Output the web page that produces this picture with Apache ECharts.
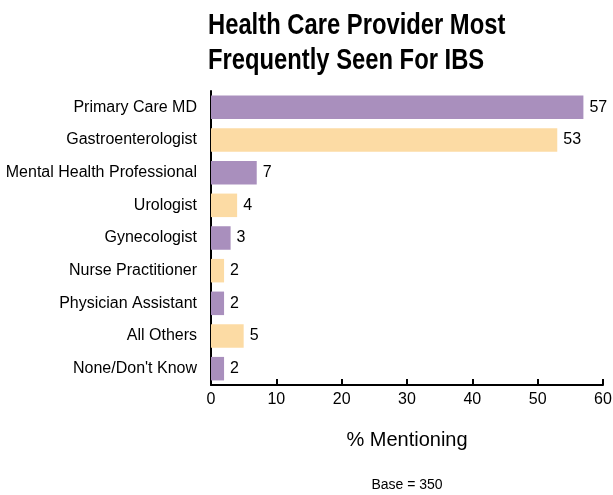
<!DOCTYPE html>
<html><head><meta charset="utf-8">
<script src="https://cdn.jsdelivr.net/npm/echarts@6/dist/echarts.min.js"></script>
<style>html,body{margin:0;padding:0;background:#fff}#c{width:613px;height:495px}</style>
</head><body><div id="c"></div>
<script>
const categories = ["Primary Care MD","Gastroenterologist","Mental Health Professional","Urologist","Gynecologist","Nurse Practitioner","Physician Assistant","All Others","None/Don't Know"];
const values = [57,53,7,4,3,2,2,5,2];
const barColors = ["#A98FBD","#FCDBA4"];
const xTicks = [0,10,20,30,40,50,60];
const SANS = "'Liberation Sans',Arial,sans-serif";

const chart = echarts.init(document.getElementById('c'), null, {renderer:'canvas'});
chart.setOption({
  animation:false,
  graphic:[
    {type:'text',x:208,y:8,scaleX:0.82,scaleY:1,
     style:{text:"Health Care Provider Most\nFrequently Seen For IBS",font:"bold 29px "+SANS,lineHeight:35,fill:'#000'}},
    {type:'text',x:407,y:485,
     style:{text:'Base = 350',font:"14px "+SANS,fill:'#000',align:'center',verticalAlign:'middle'}}
  ],
  grid:{left:211,right:10,top:91,bottom:110,containLabel:false,outerBoundsMode:'none'},
  xAxis:{
    type:'value',min:0,max:60,interval:10,
    name:'% Mentioning',nameLocation:'middle',nameGap:45,
    nameTextStyle:{fontFamily:SANS,fontSize:20,color:'#000'},
    axisLine:{show:true,lineStyle:{color:'#000',width:2}},
    axisTick:{show:true,inside:true,length:6,lineStyle:{color:'#000',width:2}},
    axisLabel:{color:'#000',fontFamily:SANS,fontSize:16,margin:7,
      formatter:function(v){return xTicks.indexOf(v)>=0?String(v):'';}},
    splitLine:{show:false}
  },
  yAxis:{
    type:'category',data:categories,inverse:true,
    axisLine:{show:true,lineStyle:{color:'#000',width:2}},
    axisTick:{show:false},
    axisLabel:{color:'#000',fontFamily:SANS,fontSize:16,margin:14}
  },
  series:[{
    type:'bar',data:values.map((v,i)=>({value:v,itemStyle:{color:barColors[i%2]}})),
    barWidth:'72%',
    label:{show:true,position:'right',distance:6,color:'#000',fontFamily:SANS,fontSize:16}
  }]
});
</script></body></html>
